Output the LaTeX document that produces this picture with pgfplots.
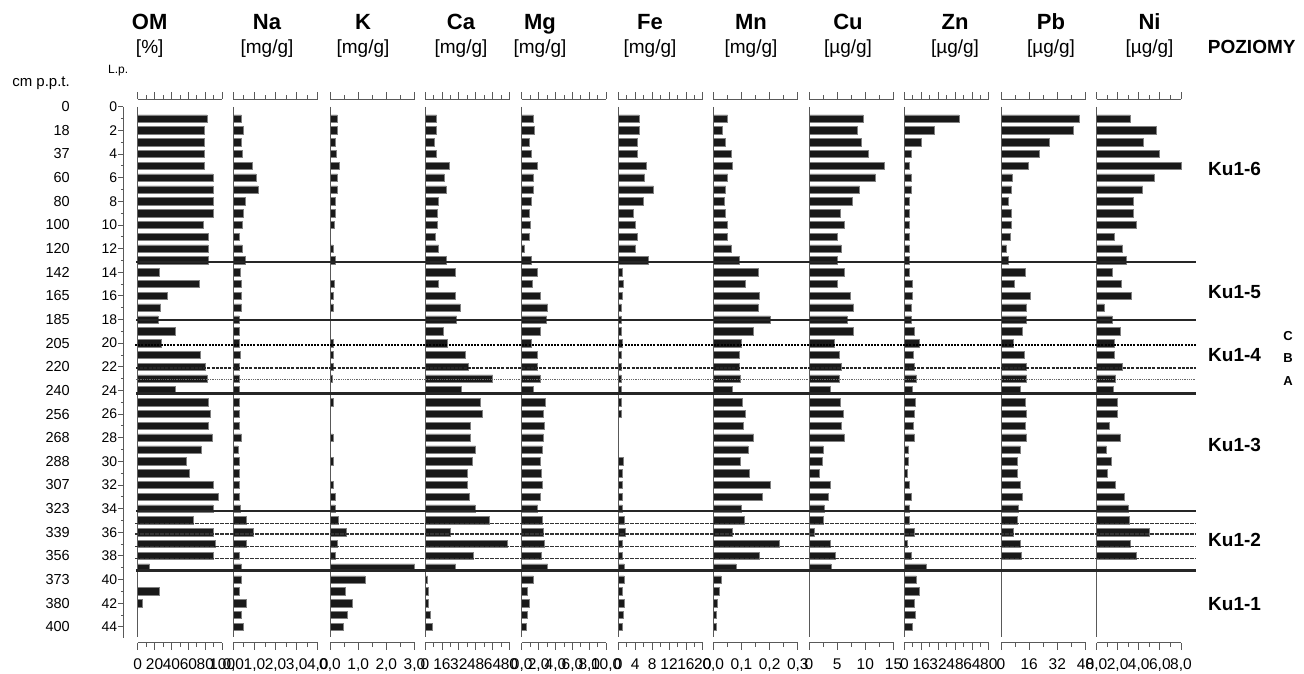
\documentclass[border=0pt]{standalone}
\usepackage{fontspec}
\setmainfont{Liberation Sans}
\usepackage{pgfplots}
\pgfplotsset{compat=1.18}
\definecolor{axgray}{gray}{0.35}
\definecolor{barblack}{gray}{0.1}
\pgfplotsset{
  panel/.style={
    scale only axis, width=84.5pt, height=543.4pt,
    anchor=north west,
    ymin=-0.63, ymax=45.35, y dir=reverse,
    xmin=0, enlargelimits=false,
    xbar, bar width=7.4pt,
    axis x line=box, axis y line=none,
    x axis line style={draw=axgray, line width=0.9pt},
    ytick=\empty,
    tick align=outside,
    major tick length=7pt, minor tick length=4pt,
    every tick/.style={axgray, line width=0.8pt},
    xticklabel pos=lower,
    xticklabel style={font=\fontsize{15.5}{17}\selectfont, inner sep=1pt, yshift=-7.5pt},
    /pgf/number format/assume math mode=true,
    clip=false,
  },
  bars/.style={fill=barblack, draw=black!50, line width=0.5pt},
}
\newcommand{\vaxis}{\draw[axgray, line width=1pt] (axis cs:0,0) -- (axis cs:0,44.9);}
\newcommand{\hsolid}[1]{\draw[line width=2.6pt, black!85] (axis cs:136,#1) -- (axis cs:1196,#1);}
\newcommand{\hdash}[1]{\draw[line width=1.2pt, black!80, dash pattern=on 4pt off 1pt] (axis cs:135,#1) -- (axis cs:1196,#1);}
\begin{document}
\begin{tikzpicture}
\useasboundingbox (0pt,0pt) rectangle (1304pt,-674pt);
% headers
\foreach \xx/\nm/\un in {149.7/OM/{[\%]},267/Na/{[mg/g]},363/K/{[mg/g]},461/Ca/{[mg/g]},540/Mg/{[mg/g]},650/Fe/{[mg/g]},751/Mn/{[mg/g]},848/Cu/{[µg/g]},955/Zn/{[µg/g]},1051/Pb/{[µg/g]},1149.5/Ni/{[µg/g]}}{
  \node[anchor=base, inner sep=0pt, font=\bfseries\fontsize{22}{24}\selectfont] at (\xx pt,-29.5pt) {\nm};
  \node[anchor=base, inner sep=0pt, font=\fontsize{19}{21}\selectfont] at (\xx pt,-54pt) {\un};
}
\node[anchor=base, inner sep=0pt, font=\bfseries\fontsize{19}{21}\selectfont] at (1251.7pt,-54pt) {POZIOMY};
\node[anchor=east, inner sep=0pt, font=\fontsize{15}{17}\selectfont] at (70pt,-83pt) {cm p.p.t.};
\node[anchor=west, inner sep=0pt, font=\fontsize{12}{14}\selectfont] at (108pt,-71pt) {L.p.};
% depth labels
\begin{axis}[at={(70pt,-106.7pt)}, anchor=north west, scale only axis, width=1pt, height=520.1pt,
  xmin=0, xmax=1, xtick=\empty,
  ymin=0, ymax=44, y dir=reverse, axis x line=none, axis y line=left,
  y axis line style={draw=none}, major tick length=0pt,
  ytick={0,2,...,44},
  yticklabels={0,18,37,60,80,100,120,142,165,185,205,220,240,256,268,288,307,323,339,356,373,380,400},
  yticklabel style={anchor=east, inner sep=0pt, font=\fontsize{14.5}{16}\selectfont}]
\end{axis}
% L.p. axis
\begin{axis}[at={(123.3pt,-106.7pt)}, anchor=north west, scale only axis, width=1pt, height=531.3pt,
  xmin=0, xmax=1, xtick=\empty,
  ymin=0, ymax=44.95, y dir=reverse, axis x line=none, axis y line=left,
  y axis line style={-, draw=axgray, line width=0.9pt},
  tick align=outside, major tick length=5pt, minor tick length=2.5pt,
  every tick/.style={axgray, line width=0.8pt},
  ytick={0,2,...,44}, minor ytick={1,3,...,43},
  yticklabels={0,2,4,6,8,10,12,14,16,18,20,22,24,26,28,30,32,34,36,38,40,42,44},
  yticklabel style={inner sep=1pt, font=\fontsize{14}{16}\selectfont}]
\end{axis}
% OM
\begin{axis}[panel, at={(137.7pt,-99.3pt)}, xmax=100, xtick={0,20,...,100}, minor xtick={10,30,...,90},
  xticklabels={0,20,40,60,80,100}]
\addplot[bars] coordinates {(82,1)(79,2)(79,3)(79,4)(79,5)(89,6)(89,7)(89,8)(89,9)(77,10)(84,11)(83,12)(84,13)(26,14)(73,15)(35,16)(27,17)(24,18)(44,19)(28,20)(74,21)(80,22)(82,23)(44,24)(83,25)(86,26)(84,27)(88,28)(75,29)(57,30)(61,31)(89,32)(95,33)(89,34)(66,35)(89,36)(92,37)(89,38)(14,39)(26,41)(5,42)};
\vaxis
\end{axis}
% Na
\begin{axis}[panel, at={(233.3pt,-99.3pt)}, xmax=4, xtick={0,1,2,3,4}, minor xtick={0.5,1.5,2.5,3.5},
  xticklabels={{0,0},{1,0},{2,0},{3,0},{4,0}}]
\addplot[bars] coordinates {(0.38,1)(0.49,2)(0.38,3)(0.42,4)(0.91,5)(1.07,6)(1.16,7)(0.58,8)(0.49,9)(0.42,10)(0.27,11)(0.42,12)(0.58,13)(0.31,14)(0.38,15)(0.38,16)(0.38,17)(0.27,18)(0.27,19)(0.27,20)(0.31,21)(0.27,22)(0.27,23)(0.27,24)(0.27,25)(0.27,26)(0.27,27)(0.38,28)(0.22,29)(0.27,30)(0.27,31)(0.27,32)(0.27,33)(0.33,34)(0.6,35)(0.96,36)(0.6,37)(0.27,38)(0.38,39)(0.38,40)(0.27,41)(0.6,42)(0.38,43)(0.49,44)};
\vaxis
\end{axis}
% K
\begin{axis}[panel, at={(330pt,-99.3pt)}, xmax=3, xtick={0,1,2,3}, minor xtick={0.5,1.5,2.5},
  xticklabels={{0,0},{1,0},{2,0},{3,0}}]
\addplot[bars] coordinates {(0.26,1)(0.26,2)(0.18,3)(0.21,4)(0.33,5)(0.26,6)(0.26,7)(0.18,8)(0.18,9)(0.14,10)(0.1,12)(0.18,13)(0.14,15)(0.1,16)(0.1,17)(0.1,20)(0.1,21)(0.1,22)(0.07,23)(0.1,25)(0.1,28)(0.1,30)(0.1,32)(0.18,33)(0.18,34)(0.3,35)(0.57,36)(0.26,37)(0.18,38)(3.0,39)(1.24,40)(0.53,41)(0.8,42)(0.6,43)(0.48,44)};
\vaxis
\end{axis}
% Ca
\begin{axis}[panel, at={(425pt,-99.3pt)}, xmax=80, xtick={0,16,...,80}, minor xtick={8,24,...,72},
  xticklabels={0,16,32,48,64,80}]
\addplot[bars] coordinates {(11,1)(11,2)(9,3)(11,4)(22.5,5)(18,6)(20,7)(13,8)(12,9)(12,10)(10,11)(13,12)(20,13)(29,14)(13,15)(29,16)(33,17)(30,18)(17,19)(21,20)(38,21)(41,22)(64,23)(34,24)(52,25)(54,26)(43,27)(43,28)(48,29)(45,30)(40,31)(40,32)(42,33)(47.5,34)(61,35)(24,36)(77.5,37)(46,38)(29,39)(2.5,40)(3.4,41)(3.4,42)(4.7,43)(7,44)};
\vaxis
\end{axis}
% Mg
\begin{axis}[panel, at={(521.7pt,-99.3pt)}, xmax=10, xtick={0,2,...,10}, minor xtick={1,3,...,9},
  xticklabels={{0,0},{2,0},{4,0},{6,0},{8,0},{10,0}}]
\addplot[bars] coordinates {(1.37,1)(1.49,2)(0.86,3)(1.1,4)(1.88,5)(1.37,6)(1.37,7)(1.1,8)(0.86,9)(0.98,10)(0.86,11)(0.31,12)(1.1,13)(1.88,14)(1.25,15)(2.16,16)(3.06,17)(2.94,18)(2.16,19)(1.1,20)(1.88,21)(1.88,22)(2.16,23)(1.37,24)(2.78,25)(2.55,26)(2.67,27)(2.55,28)(2.39,29)(2.16,30)(2.27,31)(2.39,32)(2.16,33)(1.88,34)(2.39,35)(2.55,36)(2.67,37)(2.27,38)(3.06,39)(1.37,40)(0.7,41)(0.86,42)(0.7,43)(0.59,44)};
\vaxis
\end{axis}
% Fe
\begin{axis}[panel, at={(618.3pt,-99.3pt)}, xmax=20, xtick={0,4,...,20}, minor xtick={2,6,...,18},
  xticklabels={0,4,8,12,16,20}]
\addplot[bars] coordinates {(4.9,1)(4.9,2)(4.6,3)(4.6,4)(6.5,5)(6.2,6)(8.3,7)(6.0,8)(3.6,9)(4.1,10)(4.6,11)(4.1,12)(7.0,13)(0.9,14)(1.2,15)(0.9,16)(0.6,17)(0.6,18)(0.6,19)(0.9,20)(0.6,21)(0.6,22)(0.6,23)(0.6,24)(0.6,25)(0.6,26)(1.2,30)(0.9,31)(0.9,32)(0.9,33)(0.9,34)(1.4,35)(1.7,36)(0.9,37)(0.9,38)(1.4,39)(1.4,40)(0.9,41)(1.4,42)(1.2,43)(0.9,44)};
\vaxis
\end{axis}
% Mn
\begin{axis}[panel, at={(713.3pt,-99.3pt)}, xmax=0.3, xtick={0,0.1,0.2,0.3}, minor xtick={0.05,0.15,0.25},
  xticklabels={{0,0},{0,1},{0,2},{0,3}}]
\addplot[bars] coordinates {(0.051,1)(0.032,2)(0.044,3)(0.063,4)(0.068,5)(0.051,6)(0.044,7)(0.039,8)(0.044,9)(0.051,10)(0.051,11)(0.063,12)(0.092,13)(0.158,14)(0.115,15)(0.163,16)(0.158,17)(0.202,18)(0.143,19)(0.099,20)(0.092,21)(0.092,22)(0.095,23)(0.068,24)(0.104,25)(0.115,26)(0.107,27)(0.143,28)(0.123,29)(0.095,30)(0.127,31)(0.202,32)(0.175,33)(0.099,34)(0.111,35)(0.068,36)(0.235,37)(0.163,38)(0.08,39)(0.027,40)(0.02,41)(0.015,42)(0.012,43)(0.012,44)};
\vaxis
\end{axis}
% Cu
\begin{axis}[panel, at={(809pt,-99.3pt)}, xmax=15, xtick={0,5,10,15}, minor xtick={2.5,7.5,12.5},
  xticklabels={0,5,10,15}]
\addplot[bars] coordinates {(9.6,1)(8.6,2)(9.2,3)(10.6,4)(13.4,5)(11.8,6)(9.0,7)(7.6,8)(5.5,9)(6.25,10)(5.1,11)(5.7,12)(5.1,13)(6.25,14)(5.1,15)(7.3,16)(7.9,17)(6.7,18)(7.9,19)(4.5,20)(5.3,21)(5.7,22)(5.3,23)(3.7,24)(5.5,25)(6.1,26)(5.7,27)(6.25,28)(2.5,29)(2.3,30)(1.9,31)(3.7,32)(3.5,33)(2.7,34)(2.5,35)(0.9,36)(3.7,37)(4.7,38)(3.9,39)};
\vaxis
\end{axis}
% Zn
\begin{axis}[panel, at={(904.3pt,-99.3pt)}, xmax=80, xtick={0,16,...,80}, minor xtick={8,24,...,72},
  xticklabels={0,16,32,48,64,80}]
\addplot[bars] coordinates {(51.7,1)(28.6,2)(15.9,3)(6.3,4)(5.1,5)(6.3,6)(6.3,7)(5.1,8)(5.1,9)(5.1,10)(5.1,11)(5.1,12)(5.1,13)(5.1,14)(7.3,15)(7.3,16)(6.3,17)(6.3,18)(9.5,19)(13.7,20)(8.3,21)(9.5,22)(11.4,23)(7.3,24)(10.5,25)(9.5,26)(8.3,27)(9.5,28)(4.1,29)(4.1,30)(3.2,31)(5.1,32)(6.3,33)(5.1,34)(5.1,35)(9.5,36)(3.2,37)(6.3,38)(21,39)(11.4,40)(13.7,41)(9.5,42)(10.5,43)(7.3,44)};
\vaxis
\end{axis}
% Pb
\begin{axis}[panel, at={(1001pt,-99.3pt)}, xmax=48, xtick={0,16,32,48}, minor xtick={8,24,40},
  xticklabels={0,16,32,48}]
\addplot[bars] coordinates {(44.5,1)(41.3,2)(27.3,3)(21.5,4)(15.7,5)(6.1,6)(5.8,7)(4.2,8)(5.8,9)(5.8,10)(5.0,11)(3.1,12)(4.2,13)(13.8,14)(7.5,15)(16.5,16)(14.6,17)(14.6,18)(11.9,19)(6.9,20)(13.2,21)(14.6,22)(14.6,23)(10.8,24)(13.8,25)(14.6,26)(13.8,27)(14.6,28)(10.8,29)(9.4,30)(9.4,31)(10.8,32)(11.9,33)(10.0,34)(9.4,35)(6.9,36)(10.8,37)(11.3,38)};
\vaxis
\end{axis}
% Ni
\begin{axis}[panel, at={(1096.5pt,-99.3pt)}, xmax=8, xtick={0,2,...,8}, minor xtick={1,3,...,7},
  xticklabels={{0,0},{2,0},{4,0},{6,0},{8,0}}]
\addplot[bars] coordinates {(3.18,1)(5.63,2)(4.47,3)(5.98,4)(8.0,5)(5.43,6)(4.37,7)(3.5,8)(3.5,9)(3.73,10)(1.67,11)(2.44,12)(2.86,13)(1.48,14)(2.32,15)(3.28,16)(0.71,17)(1.48,18)(2.22,19)(1.67,20)(1.67,21)(2.44,22)(1.8,23)(1.58,24)(1.99,25)(1.99,26)(1.25,27)(2.22,28)(0.93,29)(1.35,30)(1.03,31)(1.8,32)(2.64,33)(2.96,34)(3.09,35)(5.02,36)(3.18,37)(3.73,38)};
\vaxis
\end{axis}
% horizon boundaries
\begin{axis}[at={(0pt,-99.3pt)}, anchor=north west, scale only axis, width=1304pt, height=543.4pt,
  xmin=0, xmax=1304, ymin=-0.63, ymax=45.35, y dir=reverse, hide axis, clip=false]
\hsolid{13.14}
\hsolid{18.05}
\hsolid{24.27}
\hsolid{34.2}
\hsolid{39.24}
\draw[line width=2pt, black, dash pattern=on 2pt off 1.2pt] (axis cs:135,20.2) -- (axis cs:1196,20.2);
\draw[line width=1.8pt, black!85, dash pattern=on 3pt off 1.2pt] (axis cs:136,22.1) -- (axis cs:1196,22.1);
\draw[line width=0.8pt, black!60, densely dotted] (axis cs:136,23.1) -- (axis cs:1196,23.1);
\hdash{35.24}
\hdash{36.15}
\hdash{37.2}
\hdash{38.2}
\end{axis}
% horizon labels
\foreach \yy/\lab in {168.9/Ku1-6,291.8/Ku1-5,355.5/Ku1-4,445.4/Ku1-3,539.7/Ku1-2,604.4/Ku1-1}{
  \node[anchor=west, inner sep=0pt, font=\bfseries\fontsize{19}{21}\selectfont] at (1208pt,-\yy pt) {\lab};
}
\foreach \yy/\lab in {335.9/C,358.3/B,381.3/A}{
  \node[inner sep=0pt, font=\bfseries\fontsize{13}{15}\selectfont] at (1288pt,-\yy pt) {\lab};
}
\end{tikzpicture}
\end{document}
